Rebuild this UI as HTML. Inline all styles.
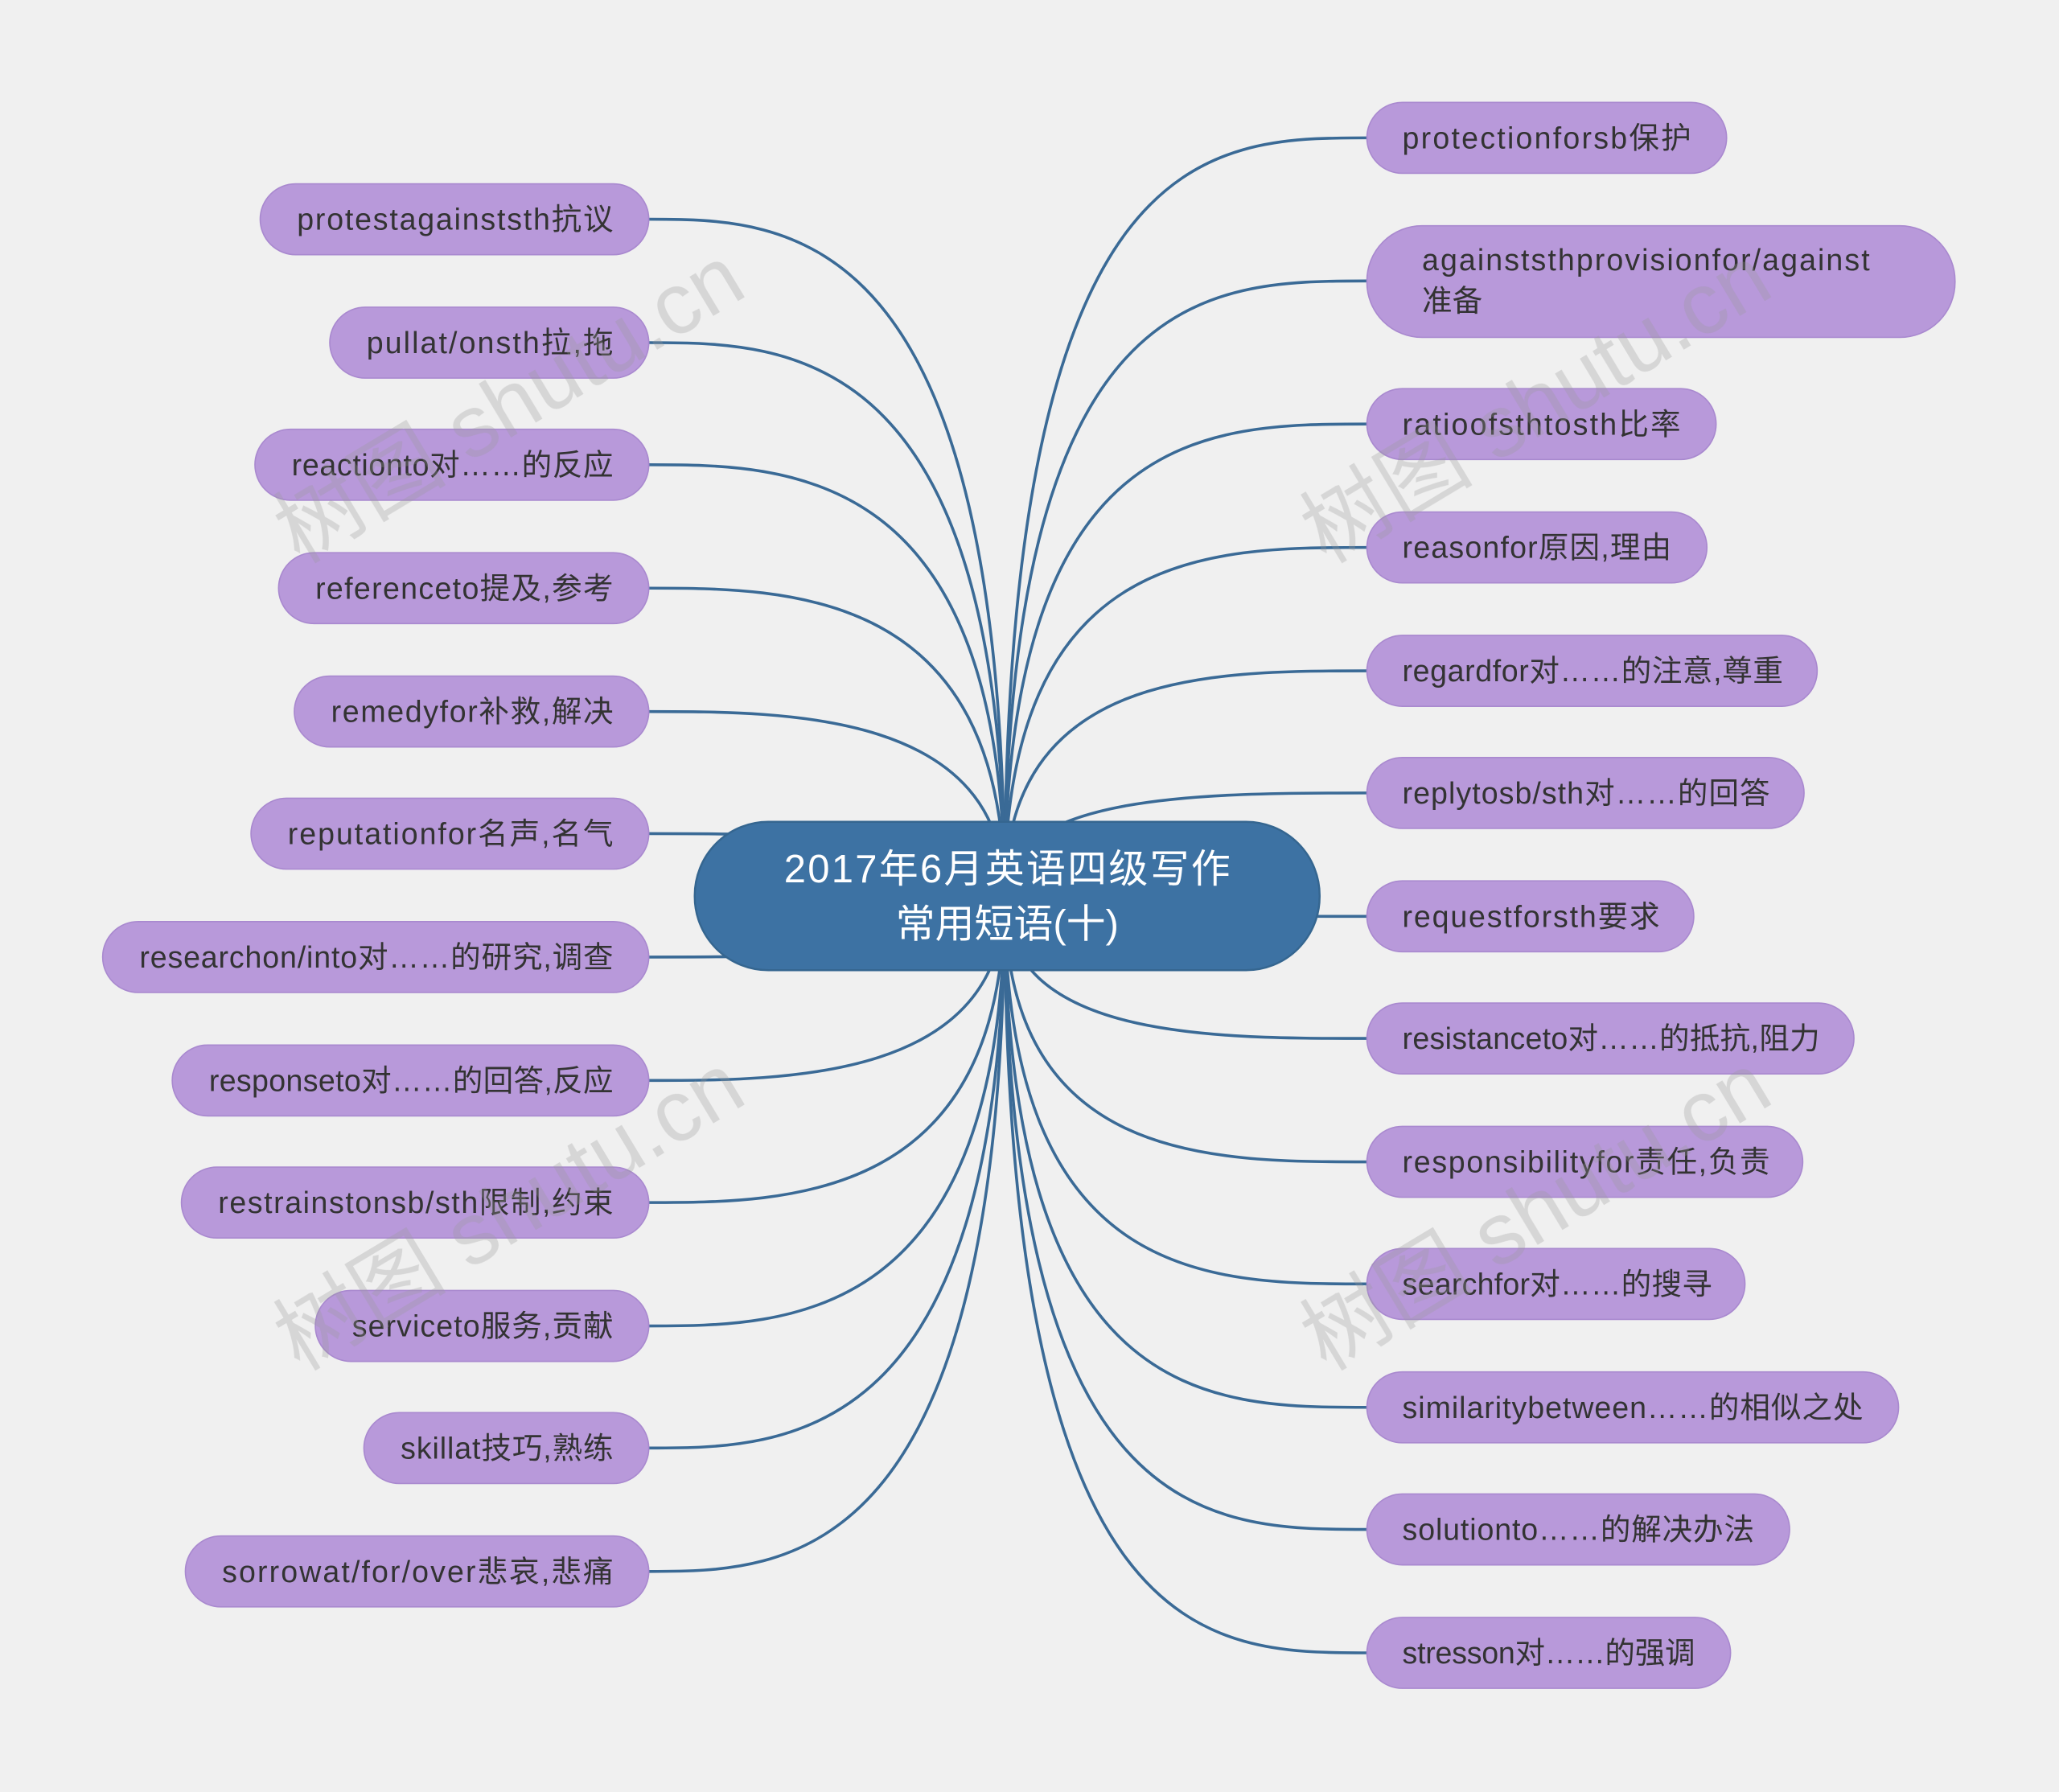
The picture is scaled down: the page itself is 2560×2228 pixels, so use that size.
<!DOCTYPE html>
<html><head><meta charset="utf-8"><style>
html,body{margin:0;padding:0;background:#f0f0f0}
svg{display:block}
text{font-family:"Liberation Sans","Noto Sans CJK SC",sans-serif}
</style></head><body>
<svg width="2560" height="2228" viewBox="0 0 1568 1365" xmlns="http://www.w3.org/2000/svg">
<rect width="1568" height="1365" fill="#f0f0f0"/>
<g fill="none" stroke="#3a6a96" stroke-width="2.2">
<path d="M765,682 C765,167 600,167 494,167"/>
<path d="M765,682 C765,261 600,261 494,261"/>
<path d="M765,682 C765,354 600,354 494,354"/>
<path d="M765,682 C765,448 600,448 494,448"/>
<path d="M765,682 C765,542 600,542 494,542"/>
<path d="M765,682 C765,635 600,635 494,635"/>
<path d="M765,682 C765,729 600,729 494,729"/>
<path d="M765,682 C765,823 600,823 494,823"/>
<path d="M765,682 C765,916 600,916 494,916"/>
<path d="M765,682 C765,1010 600,1010 494,1010"/>
<path d="M765,682 C765,1103 600,1103 494,1103"/>
<path d="M765,682 C765,1197 600,1197 494,1197"/>
<path d="M765,682 C765,105 920,105 1041,105"/>
<path d="M765,682 C765,214 920,214 1041,214"/>
<path d="M765,682 C765,323 920,323 1041,323"/>
<path d="M765,682 C765,417 920,417 1041,417"/>
<path d="M765,682 C765,511 920,511 1041,511"/>
<path d="M765,682 C765,604 920,604 1041,604"/>
<path d="M765,682 C765,698 920,698 1041,698"/>
<path d="M765,682 C765,791 920,791 1041,791"/>
<path d="M765,682 C765,885 920,885 1041,885"/>
<path d="M765,682 C765,978 920,978 1041,978"/>
<path d="M765,682 C765,1072 920,1072 1041,1072"/>
<path d="M765,682 C765,1165 920,1165 1041,1165"/>
<path d="M765,682 C765,1259 920,1259 1041,1259"/>
</g>
<rect x="529" y="626" width="476" height="113" rx="56" fill="#3d72a3" stroke="#356690" stroke-width="1.5"/>
<text x="767" y="672" font-size="30" fill="#fff" text-anchor="middle" textLength="340">2017年6月英语四级写作</text>
<text x="767" y="714" font-size="30" fill="#fff" text-anchor="middle">常用短语(十)</text>
<g fill="#b899da" stroke="#a989cf" stroke-width="1">
<rect x="198" y="140" width="296" height="54" rx="27"/>
<rect x="251" y="234" width="243" height="54" rx="27"/>
<rect x="194" y="327" width="300" height="54" rx="27"/>
<rect x="212" y="421" width="282" height="54" rx="27"/>
<rect x="224" y="515" width="270" height="54" rx="27"/>
<rect x="191" y="608" width="303" height="54" rx="27"/>
<rect x="78" y="702" width="416" height="54" rx="27"/>
<rect x="131" y="796" width="363" height="54" rx="27"/>
<rect x="138" y="889" width="356" height="54" rx="27"/>
<rect x="240" y="983" width="254" height="54" rx="27"/>
<rect x="277" y="1076" width="217" height="54" rx="27"/>
<rect x="141" y="1170" width="353" height="54" rx="27"/>
<rect x="1041" y="78" width="274" height="54" rx="27"/>
<rect x="1041" y="172" width="448" height="85" rx="42"/>
<rect x="1041" y="296" width="266" height="54" rx="27"/>
<rect x="1041" y="390" width="259" height="54" rx="27"/>
<rect x="1041" y="484" width="343" height="54" rx="27"/>
<rect x="1041" y="577" width="333" height="54" rx="27"/>
<rect x="1041" y="671" width="249" height="54" rx="27"/>
<rect x="1041" y="764" width="371" height="54" rx="27"/>
<rect x="1041" y="858" width="332" height="54" rx="27"/>
<rect x="1041" y="951" width="288" height="54" rx="27"/>
<rect x="1041" y="1045" width="405" height="54" rx="27"/>
<rect x="1041" y="1138" width="322" height="54" rx="27"/>
<rect x="1041" y="1232" width="277" height="54" rx="27"/>
</g>
<g font-size="23" fill="#333" text-anchor="end">
<text x="467" y="175" textLength="241">protestagainststh抗议</text>
<text x="467" y="269" textLength="188">pullat/onsth拉,拖</text>
<text x="467" y="362" textLength="245">reactionto对……的反应</text>
<text x="467" y="456" textLength="227">referenceto提及,参考</text>
<text x="467" y="550" textLength="215">remedyfor补救,解决</text>
<text x="467" y="643" textLength="248">reputationfor名声,名气</text>
<text x="467" y="737" textLength="361">researchon/into对……的研究,调查</text>
<text x="467" y="831" textLength="308">responseto对……的回答,反应</text>
<text x="467" y="924" textLength="301">restrainstonsb/sth限制,约束</text>
<text x="467" y="1018" textLength="199">serviceto服务,贡献</text>
<text x="467" y="1111" textLength="162">skillat技巧,熟练</text>
<text x="467" y="1205" textLength="298">sorrowat/for/over悲哀,悲痛</text>
</g>
<g font-size="23" fill="#333">
<text x="1068" y="113" textLength="220">protectionforsb保护</text>
<text x="1083" y="206" textLength="341">againststhprovisionfor/against</text>
<text x="1083" y="237">准备</text>
<text x="1068" y="331" textLength="212">ratioofsthtosth比率</text>
<text x="1068" y="425" textLength="205">reasonfor原因,理由</text>
<text x="1068" y="519" textLength="290">regardfor对……的注意,尊重</text>
<text x="1068" y="612" textLength="280">replytosb/sth对……的回答</text>
<text x="1068" y="706" textLength="196">requestforsth要求</text>
<text x="1068" y="799" textLength="318">resistanceto对……的抵抗,阻力</text>
<text x="1068" y="893" textLength="280">responsibilityfor责任,负责</text>
<text x="1068" y="986" textLength="236">searchfor对……的搜寻</text>
<text x="1068" y="1080" textLength="351">similaritybetween……的相似之处</text>
<text x="1068" y="1173" textLength="268">solutionto……的解决办法</text>
<text x="1068" y="1267" textLength="223">stresson对……的强调</text>
</g>
<g font-size="66" fill="#999" opacity="0.3" font-family="Liberation Serif,Noto Serif CJK SC,serif">
<text transform="translate(228,430) rotate(-31)">树图 shutu.cn</text>
<text transform="translate(1010,430) rotate(-31)">树图 shutu.cn</text>
<text transform="translate(228,1045) rotate(-31)">树图 shutu.cn</text>
<text transform="translate(1010,1045) rotate(-31)">树图 shutu.cn</text>
</g>
</svg>
</body></html>
